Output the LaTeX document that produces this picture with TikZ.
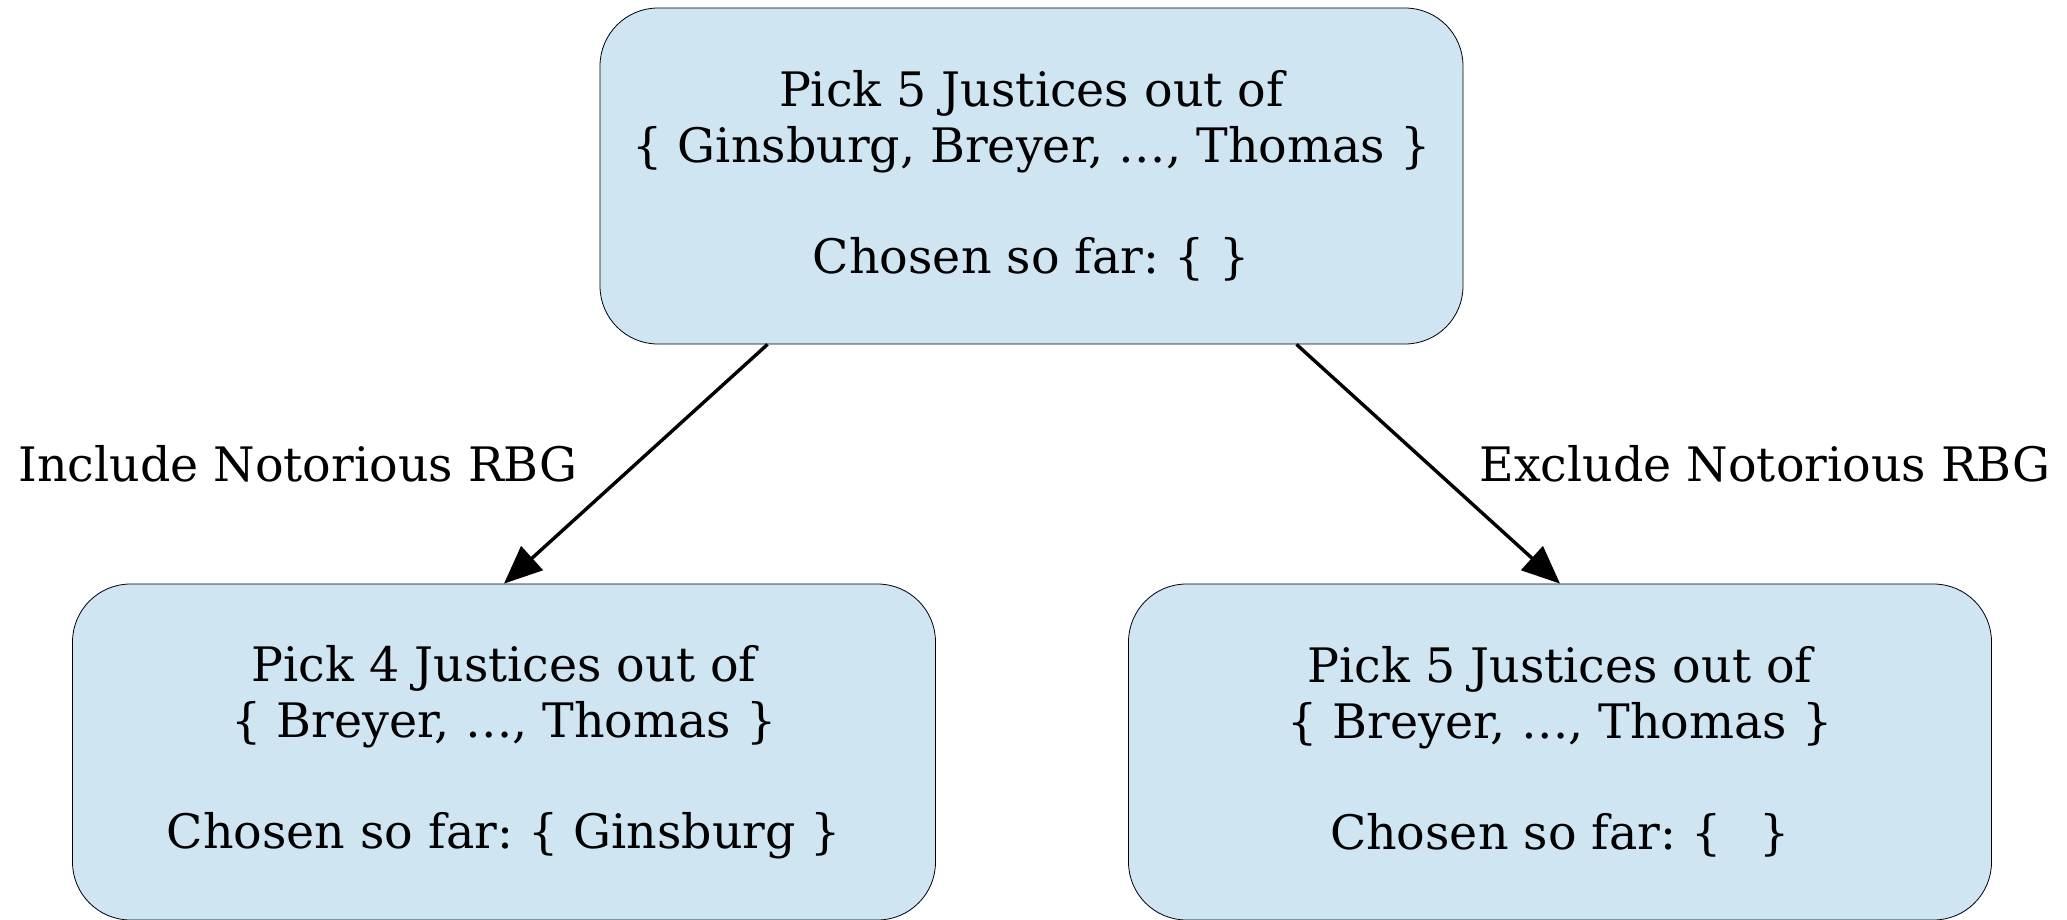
\documentclass[tikz,border=0pt]{standalone}
\usepackage{fontspec}
\setmainfont{DejaVu Serif}
\usetikzlibrary{arrows.meta}
\frenchspacing
\definecolor{boxfill}{RGB}{207,229,242}
\tikzset{
  statebox/.style={draw=black, line width=0.8pt, fill=boxfill, rounded corners=58pt,
    minimum width=863pt, minimum height=336pt, align=center, inner sep=0pt,
    font=\fontsize{47.5}{55.5}\selectfont},
  edgelabel/.style={font=\fontsize{47.5}{55.5}\selectfont, inner sep=0pt},
  branch/.style={line width=3.4pt, -{Triangle[length=38pt,width=32pt]}}
}
\begin{document}
\begin{tikzpicture}[x=1pt,y=-1pt]
\useasboundingbox (0,0) rectangle (2067,919);
\node[statebox] (root) at (1031.5,176)
  {Pick 5 Justices out of\\\{ Ginsburg, Breyer, …, Thomas \}\\[55.5pt]Chosen so far: \{ \}};
\node[statebox] (incl) at (504,752)
  {Pick 4 Justices out of\\\{ Breyer, …, Thomas \}\\[55.5pt]Chosen so far: \{ Ginsburg \}};
\node[statebox] (excl) at (1560,752)
  {Pick 5 Justices out of\\\{ Breyer, …, Thomas \}\\[55.5pt]Chosen so far: \{\hspace{0.8em}\}};
\node[edgelabel] (inclab) at (298,464) {Include Notorious RBG};
\node[edgelabel] (exclab) at (1765,464) {Exclude Notorious RBG};
\draw[branch] ([xshift=-264pt]root.south) -- (incl.north);
\draw[branch] ([xshift=265pt]root.south) -- (excl.north);
\end{tikzpicture}
\end{document}
